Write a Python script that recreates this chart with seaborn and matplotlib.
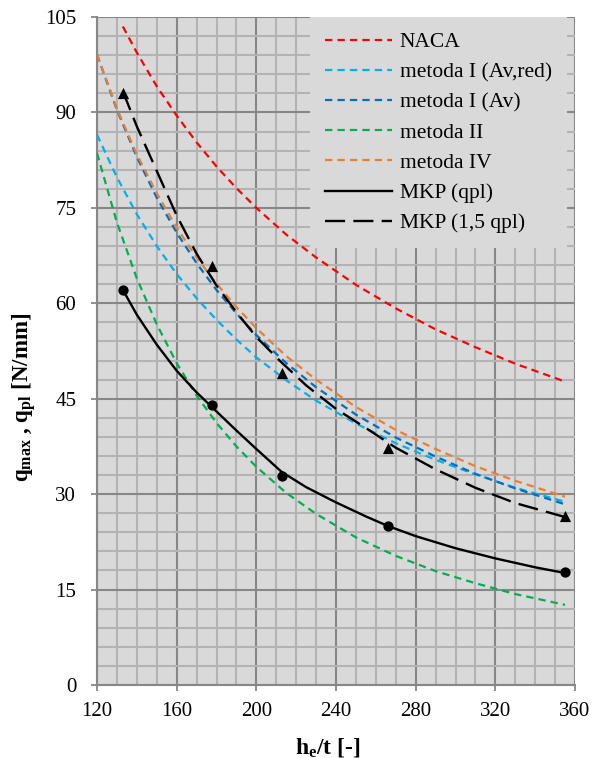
import matplotlib
matplotlib.use("Agg")
import matplotlib.pyplot as plt
import seaborn as sns
import pandas as pd
from matplotlib.ticker import MultipleLocator
from matplotlib.lines import Line2D

# ---------------- data ----------------
x_curve = [120, 130, 140, 150, 160, 170, 180, 190, 200, 215, 230, 250, 270, 290, 310, 330, 355]
metoda_I_av_red = [86.5, 79.8, 74.0, 69.0, 64.6, 60.8, 57.4, 54.3, 51.5, 47.9, 44.7, 41.1, 38.0, 35.4, 33.1, 31.0, 28.8]
metoda_I_av = [99.1, 90.4, 83.0, 76.6, 71.1, 66.3, 62.1, 58.4, 55.0, 50.6, 46.8, 42.5, 38.9, 35.9, 33.2, 30.9, 28.4]
metoda_II = [83.6, 72.7, 63.9, 56.7, 50.6, 45.5, 41.2, 37.5, 34.3, 30.2, 26.9, 23.2, 20.3, 17.9, 16.0, 14.3, 12.6]
metoda_IV = [99.1, 90.6, 83.4, 77.3, 71.9, 67.2, 63.1, 59.4, 56.1, 51.7, 48.0, 43.7, 40.1, 37.1, 34.4, 32.1, 29.6]

naca_x = [133, 140, 150, 160, 170, 180, 190, 200, 215, 230, 250, 270, 290, 310, 330, 355]
naca = [103.5, 99.4, 94.1, 89.5, 85.3, 81.5, 78.1, 75.0, 70.8, 67.2, 62.9, 59.2, 55.9, 53.1, 50.5, 47.7]

mkp_x = [133, 140, 150, 160, 170, 180, 190, 200, 212.7, 225, 240, 255, 266, 280, 300, 320, 340, 355]
mkp_qpl = [62.1, 58.2, 53.5, 49.4, 46.0, 43.0, 40.0, 37.1, 33.5, 31.1, 28.7, 26.5, 25.0, 23.4, 21.5, 19.9, 18.5, 17.6]

mkp15_x = [133, 140, 150, 160, 170, 180, 190, 200, 212, 225, 240, 255, 270, 290, 310, 330, 355]
mkp_15qpl = [93.3, 87.8, 80.8, 73.8, 67.8, 62.8, 58.6, 54.7, 50.9, 47.1, 43.4, 40.4, 37.3, 33.9, 31.0, 28.6, 26.4]

pts_x = [133, 177.5, 212.7, 266, 355]
pts_qpl = [62.1, 44.0, 32.8, 25.0, 17.7]
pts_15qpl = [93.0, 65.8, 49.0, 37.3, 26.5]

labels = ["NACA", "metoda I (Av,red)", "metoda I (Av)", "metoda II", "metoda IV",
          "MKP (qpl)", "MKP (1,5 qpl)"]
x_ticks = [120, 160, 200, 240, 280, 320, 360]
y_ticks = [0, 15, 30, 45, 60, 75, 90, 105]

# ---------------- style ----------------
plt.rcParams["font.family"] = ["Liberation Serif", "DejaVu Serif"]
plt.rcParams["mathtext.fontset"] = "custom"
plt.rcParams["mathtext.rm"] = "Liberation Serif"
plt.rcParams["mathtext.it"] = "Liberation Serif:italic"
plt.rcParams["mathtext.bf"] = "Liberation Serif:bold"

BG = "#d9d9d9"
MAJ = "#878787"
MIN = "#b3b3b3"

fig = plt.figure(figsize=(6.02, 7.58), dpi=100)
ax = fig.add_axes([97 / 602, 1 - 685 / 758, (575 - 97) / 602, (685 - 17) / 758])
ax.set_facecolor(BG)

lw = 1.6
short = (3.3, 2.3)
long_ = (8.5, 3.5)

series = [
    (naca_x, naca, "#ff0000", short, labels[0]),
    (x_curve, metoda_I_av_red, "#00b0f0", short, labels[1]),
    (x_curve, metoda_I_av, "#0070c0", short, labels[2]),
    (x_curve, metoda_II, "#00b050", short, labels[3]),
    (x_curve, metoda_IV, "#ed7d31", short, labels[4]),
]
handles = []
for xs, ys, col, dsh, lab in series:
    df = pd.DataFrame({"x": xs, "y": ys})
    sns.lineplot(data=df, x="x", y="y", ax=ax, color=col, linewidth=lw, zorder=3)
    ln = ax.lines[-1]
    ln.set_dashes(dsh)
    handles.append(Line2D([], [], color=col, lw=lw, dashes=dsh))

df = pd.DataFrame({"x": mkp_x, "y": mkp_qpl})
sns.lineplot(data=df, x="x", y="y", ax=ax, color="black", linewidth=1.7, zorder=4)
handles.append(Line2D([], [], color="black", lw=1.7))
df = pd.DataFrame({"x": mkp15_x, "y": mkp_15qpl})
sns.lineplot(data=df, x="x", y="y", ax=ax, color="black", linewidth=1.7, zorder=4)
ax.lines[-1].set_dashes(long_)
handles.append(Line2D([], [], color="black", lw=1.7, dashes=long_))

sns.scatterplot(x=pts_x, y=pts_qpl, ax=ax, color="black", marker="o", s=55,
                edgecolor="black", linewidth=0, zorder=5)
sns.scatterplot(x=pts_x, y=pts_15qpl, ax=ax, color="black", marker="^", s=65,
                edgecolor="black", linewidth=0, zorder=5)

ax.set_xlim(120, 360)
ax.set_ylim(0, 105)
ax.set_xticks(x_ticks)
ax.set_yticks(y_ticks)
ax.xaxis.set_minor_locator(MultipleLocator(10))
ax.yaxis.set_minor_locator(MultipleLocator(3))
ax.set_axisbelow(True)
ax.grid(which="minor", color=MIN, lw=1.5)
ax.grid(which="major", color=MAJ, lw=1.5)
ax.tick_params(which="major", direction="out", length=4, width=1.3, color=MAJ,
               labelsize=15, labelcolor="black")
ax.tick_params(axis="x", which="major", pad=8)
ax.tick_params(axis="y", which="major", pad=11)
ax.tick_params(which="minor", length=0)
for s in ["top", "right"]:
    ax.spines[s].set_visible(False)
for s in ["left", "bottom"]:
    ax.spines[s].set_color(MAJ)
    ax.spines[s].set_linewidth(1.5)

ax.set_xlabel(r"$\mathbf{h_e}$/t [-]", fontsize=17, fontweight="bold")
ax.xaxis.set_label_coords(0.483, -0.093)
ax.xaxis.label.set_va("center")
ax.set_ylabel(r"$\mathbf{q_{max}}$ , $\mathbf{q_{pl}}$ [N/mm]", fontsize=16.5,
              fontweight="bold", va="center", ha="center")
ax.yaxis.set_label_coords(-0.152, 0.43)

leg = ax.legend(handles, labels, loc="upper right", bbox_to_anchor=(0.983, 1.0),
                borderaxespad=0, fontsize=15.5, frameon=True, fancybox=False,
                facecolor=BG, edgecolor="none", framealpha=1,
                handlelength=3.1, handletextpad=0.35, labelspacing=0.47,
                borderpad=0.7)
leg.set_zorder(6)

fig.savefig("out.png", dpi=100)
